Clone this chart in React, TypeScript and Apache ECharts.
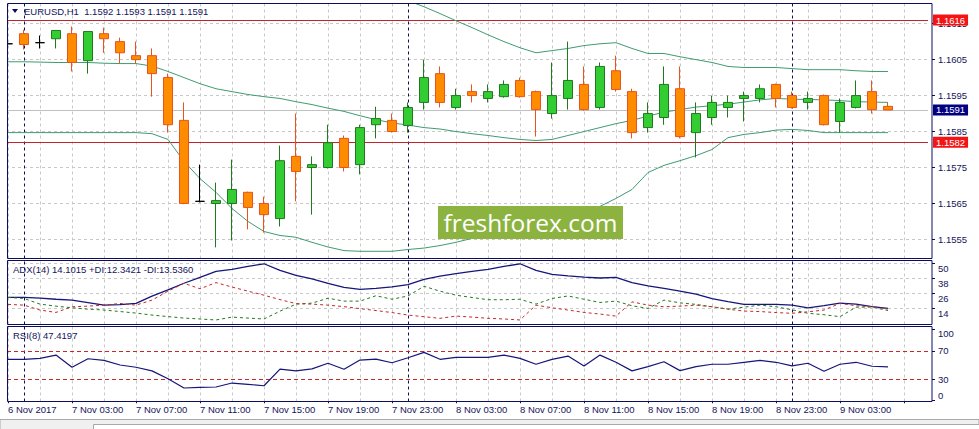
import { useEffect, useRef } from 'react'
import * as echarts from 'echarts'

// EURUSD H1, 6 Nov 23:00 .. 9 Nov 06:00 (one value per bar)
const open = [
  1.16094, 1.16122, 1.16097, 1.16108, 1.16122, 1.16047, 1.16122, 1.161, 1.16061, 1.16061,
  1.16, 1.15881, 1.15656, 1.1565, 1.1565, 1.15681, 1.1565, 1.15608, 1.15781, 1.1575,
  1.1575, 1.15831, 1.15758, 1.15869, 1.15881, 1.15867, 1.15931, 1.16011, 1.15917, 1.15961,
  1.15942, 1.15947, 1.15992, 1.15961, 1.159, 1.15942, 1.15981, 1.15917, 1.16019, 1.15961,
  1.15861, 1.15889, 1.15969, 1.15847, 1.15889, 1.15917, 1.15942, 1.15942, 1.15981, 1.1595,
  1.15931, 1.1595, 1.15878, 1.15917, 1.15961, 1.1592,
]
const high = [
  1.16111, 1.16133, 1.16117, 1.16131, 1.16142, 1.16128, 1.16139, 1.16111, 1.161, 1.16081,
  1.16011, 1.15931, 1.15758, 1.15708, 1.15772, 1.15683, 1.15669, 1.15811, 1.159, 1.15781,
  1.15869, 1.15839, 1.15869, 1.15919, 1.159, 1.15931, 1.1605, 1.16031, 1.15969, 1.15981,
  1.15981, 1.15992, 1.16, 1.15964, 1.16042, 1.161, 1.16031, 1.16042, 1.16061, 1.15969,
  1.15931, 1.16031, 1.16031, 1.15931, 1.1595, 1.1595, 1.15961, 1.15981, 1.15983, 1.15961,
  1.15961, 1.15953, 1.15942, 1.15992, 1.15992, 1.1593,
]
const low = [
  1.16069, 1.16078, 1.16081, 1.16081, 1.16017, 1.16011, 1.16069, 1.16039, 1.16039, 1.15947,
  1.15847, 1.15648, 1.15653, 1.15528, 1.15547, 1.15578, 1.15569, 1.15586, 1.15656, 1.15619,
  1.15747, 1.15739, 1.15731, 1.15831, 1.15847, 1.15847, 1.15911, 1.15917, 1.15911, 1.15931,
  1.15931, 1.15944, 1.15944, 1.15836, 1.15886, 1.15911, 1.15908, 1.15911, 1.15961, 1.15831,
  1.15847, 1.15869, 1.15831, 1.15778, 1.15869, 1.15889, 1.15878, 1.15931, 1.15917, 1.15914,
  1.15911, 1.15867, 1.15847, 1.15914, 1.159, 1.1591,
]
const close = [
  1.16094, 1.16092, 1.16097, 1.16131, 1.16042, 1.16128, 1.16108, 1.16069, 1.1605, 1.16011,
  1.15869, 1.1565, 1.15656, 1.15658, 1.15689, 1.15639, 1.15619, 1.15769, 1.15739, 1.15758,
  1.15819, 1.1575, 1.15861, 1.15886, 1.1585, 1.15917, 1.16, 1.15931, 1.1595, 1.1595,
  1.15961, 1.15981, 1.15947, 1.15911, 1.1595, 1.15992, 1.15911, 1.16031, 1.15967, 1.15847,
  1.159, 1.15981, 1.15836, 1.159, 1.15931, 1.15931, 1.1595, 1.15969, 1.15942, 1.15917,
  1.15942, 1.15869, 1.15931, 1.1595, 1.15911, 1.1591,
]

// Bollinger bands
const bbUpper = [
  1.16242, 1.16242, 1.16239, 1.16236, 1.16236, 1.16236, 1.16233, 1.16231, 1.16231, 1.16225,
  1.16219, 1.16233, 1.16247, 1.16258, 1.16286, 1.16306, 1.16322, 1.16322, 1.16311, 1.16308,
  1.16301, 1.16292, 1.16272, 1.1625, 1.16231, 1.16214, 1.16197, 1.16178, 1.16158, 1.16139,
  1.16119, 1.161, 1.16083, 1.16069, 1.16075, 1.16081, 1.16089, 1.16094, 1.16097, 1.16081,
  1.16067, 1.16067, 1.16058, 1.1605, 1.16042, 1.16031, 1.16028, 1.16028, 1.16028, 1.16025,
  1.16022, 1.16022, 1.16022, 1.16019, 1.16017, 1.16017,
]
const bbMiddle = [
  1.16044, 1.16044, 1.16043, 1.16042, 1.16042, 1.16042, 1.1604, 1.16039, 1.16039, 1.16032,
  1.16017, 1.16, 1.15983, 1.15969, 1.15961, 1.15953, 1.15947, 1.15942, 1.15933, 1.15925,
  1.15915, 1.15906, 1.15894, 1.15883, 1.15874, 1.15868, 1.15861, 1.15857, 1.1585, 1.15844,
  1.15839, 1.15833, 1.15828, 1.15825, 1.15828, 1.15839, 1.1585, 1.15861, 1.15872, 1.15881,
  1.15893, 1.15904, 1.15911, 1.15918, 1.15922, 1.15926, 1.15932, 1.15938, 1.15942, 1.1594,
  1.15939, 1.15938, 1.15936, 1.15933, 1.15932, 1.15931,
]
const bbLower = [
  1.15847, 1.15847, 1.15847, 1.15847, 1.15847, 1.15847, 1.15847, 1.15847, 1.15847, 1.15844,
  1.15828, 1.15767, 1.15719, 1.15681, 1.15636, 1.156, 1.15572, 1.15561, 1.15556, 1.15542,
  1.15529, 1.15519, 1.15517, 1.15517, 1.15517, 1.15522, 1.15526, 1.15533, 1.15542, 1.15553,
  1.15558, 1.15567, 1.15569, 1.15572, 1.15575, 1.156, 1.15621, 1.15642, 1.15664, 1.15689,
  1.15736, 1.15756, 1.15769, 1.15783, 1.158, 1.15833, 1.15842, 1.15847, 1.15854, 1.15856,
  1.15853, 1.15847, 1.15847, 1.15847, 1.15847, 1.15847,
]

// ADX(14)
const adx = [
  22.7, 22.7, 22.1, 21.3, 20.6, 18.6, 16.6, 17, 18, 23.7,
  28.8, 34, 38.7, 43.4, 45, 47.4, 49.5, 44.2, 40.3, 37.5,
  34, 30.8, 29.2, 30, 31.2, 32.9, 37.1, 39.7, 41.6, 43.4,
  45, 47.4, 49.5, 44.2, 41.1, 39.9, 38.9, 38.2, 38.7, 34.5,
  32, 30, 27.8, 25.3, 21.7, 19.4, 17.2, 17.2, 17.2, 16.6,
  14.5, 16.2, 18.2, 17.4, 15.4, 14.1,
]
const plusDI = [
  22.7, 21.9, 17.4, 15.8, 14.5, 13.4, 12.7, 11.5, 10.3, 8.7,
  7.5, 6.3, 5.6, 4.8, 7.1, 6.3, 5.6, 11.8, 17.4, 18.2,
  22.1, 19.8, 19.8, 24.1, 21.3, 23.9, 31.6, 27.7, 24.5, 22.7,
  20.9, 20.9, 21.3, 17.4, 21.9, 23.9, 21.3, 18.7, 19.8, 16.1,
  14, 20.6, 18.4, 17.2, 15.3, 13.4, 15, 16.6, 15.3, 12.9,
  10.1, 9, 7.4, 15, 15, 12.3,
]
const minusDI = [
  17.2, 16.6, 12.7, 10.8, 15.3, 15.8, 16.6, 17.9, 16.6, 20.6,
  27.7, 34, 29.6, 34.5, 31, 27.7, 24.5, 21, 17.8, 17.4,
  16.6, 15.4, 13.8, 12.3, 10.7, 8.7, 7.4, 6.1, 7.9, 7.1,
  6.1, 5.6, 4.8, 16.6, 14.5, 12.7, 10.8, 9.5, 7.9, 19.2,
  16.6, 15.3, 15.8, 16.6, 15.3, 13.4, 11.9, 11.5, 10.7, 10.1,
  11.3, 12.7, 18, 16.1, 15.4, 13.5,
]

// RSI(8)
const rsi = [
  58, 58, 59.4, 64, 46.8, 58.8, 56.6, 50, 46.8, 41.6,
  30.4, 17.4, 18.3, 18.8, 24.4, 22.6, 20.6, 44, 41.6, 44.4,
  52.4, 44, 57, 58.4, 53.2, 60.2, 67.8, 58, 60.8, 60.8,
  60.8, 64, 59.4, 51, 58, 62.6, 48.6, 64, 53.8, 41.6,
  47.6, 54.6, 42, 47.6, 51, 51, 53.8, 56.6, 53.8, 48.6,
  52.4, 41.2, 51, 53.8, 48.2, 47.4,
]

const timeLabels = [
  '6 Nov 2017', '7 Nov 03:00', '7 Nov 07:00', '7 Nov 11:00', '7 Nov 15:00', '7 Nov 19:00', '7 Nov 23:00',
  '8 Nov 03:00', '8 Nov 07:00', '8 Nov 11:00', '8 Nov 15:00', '8 Nov 19:00', '8 Nov 23:00', '9 Nov 03:00',
]
const priceTicks = [1.1555, 1.1565, 1.1575, 1.1585, 1.1595, 1.1605, 1.1615]
const adxTicks = [14, 26, 38, 50]
const rsiTicks = [0, 30, 70, 100]
const rsiLevels = [70, 30]
const levelHigh = 1.1616
const levelLow = 1.1582
const lastPrice = 1.1591

// two empty slots after the last bar, like the chart shift in the terminal
const SLOTS = 58
const hours = Array.from({ length: SLOTS }, (_, i) => {
  const h = 23 + i
  return `${6 + Math.floor(h / 24)} Nov ${String(h % 24).padStart(2, '0')}:00`
})
const dayStarts = hours.map((h, i) => (h.endsWith(' 00:00') ? i : -1)).filter((i) => i >= 0)

const NAVY = '#0c0c5c'
const TXT = '#14145a'
const FONT = 'Liberation Sans'

function vGrid() {
  const grid = hours
    .map((_, i) => i)
    .filter((i) => i % 2 === 0)
    .map((i) => ({ xAxis: i, lineStyle: { color: '#c8c8c8', type: [3, 3], width: 1 } }))
  const seps = dayStarts.map((i) => ({ xAxis: i, lineStyle: { color: '#10105a', type: [3, 3], width: 1 } }))
  return [...grid, ...seps]
}

function priceTag(value: number, bg: string) {
  return {
    show: true,
    position: 'end',
    distance: 5,
    formatter: value.toFixed(4),
    backgroundColor: bg,
    color: '#fff',
    padding: [1, 3, 0, 3],
    fontSize: 9.5,
    fontFamily: FONT,
  }
}

export default function App() {
  const ref = useRef<HTMLDivElement>(null)

  useEffect(() => {
    document.body.style.margin = '0'
    if (!ref.current) return
    const chart = echarts.init(ref.current, null, { renderer: 'svg' })

    const xBase = { type: 'category', data: hours, boundaryGap: true, axisLine: { show: false }, axisTick: { show: false }, axisLabel: { show: false }, splitLine: { show: false } }
    const yBase = {
      position: 'right',
      offset: 4,
      axisLine: { show: false },
      axisTick: { show: true, length: 3, lineStyle: { color: NAVY } },
      axisLabel: { color: TXT, fontSize: 9.5, fontFamily: FONT, margin: 6, showMinLabel: true, showMaxLabel: true },
    }
    const mlBase = { silent: true, precision: 5, symbol: ['none', 'none'], z: 1, label: { show: false }, emphasis: { disabled: true }, animation: false }

    chart.setOption({
      animation: false,
      textStyle: { fontFamily: FONT },
      grid: [
        { left: 0, width: 928, top: 3.5, height: 255, outerBoundsMode: 'none' },
        { left: 0, width: 928, top: 260.5, height: 64, outerBoundsMode: 'none' },
        { left: 0, width: 928, top: 326.5, height: 75, outerBoundsMode: 'none' },
      ],
      xAxis: [
        { ...xBase, gridIndex: 0 },
        { ...xBase, gridIndex: 1 },
        {
          ...xBase,
          gridIndex: 2,
          axisTick: { show: true, interval: 3, alignWithLabel: true, length: 3, lineStyle: { color: NAVY } },
          axisLabel: {
            show: true,
            interval: 3,
            align: 'left',
            margin: 3,
            color: TXT,
            fontSize: 9.5,
            fontFamily: FONT,
            formatter: (_v: string, idx: number) => timeLabels[idx / 4] ?? '',
          },
        },
      ],
      yAxis: [
        {
          ...yBase,
          gridIndex: 0,
          type: 'value',
          min: 1.15497,
          max: 1.16206,
          axisTick: { ...yBase.axisTick, customValues: priceTicks },
          axisLabel: { ...yBase.axisLabel, customValues: priceTicks, formatter: (v: number) => v.toFixed(4) },
          splitLine: { show: true, lineStyle: { color: '#c8c8c8', type: [3, 3], width: 1 } },
        },
        {
          ...yBase,
          gridIndex: 1,
          type: 'value',
          min: 1.2,
          max: 52.1,
          axisTick: { ...yBase.axisTick, customValues: adxTicks },
          axisLabel: { ...yBase.axisLabel, customValues: adxTicks, verticalAlign: 'top' },
          splitLine: { show: true, lineStyle: { color: '#c8c8c8', type: [3, 3], width: 1 } },
        },
        {
          ...yBase,
          gridIndex: 2,
          type: 'value',
          min: -1.75,
          max: 104.5,
          axisTick: { ...yBase.axisTick, customValues: rsiTicks },
          axisLabel: {
            ...yBase.axisLabel,
            customValues: rsiTicks,
            formatter: (v: number) => (v === 0 ? `{b|${v}}` : v === 100 ? `{t|${v}}` : String(v)),
            rich: {
              b: { lineHeight: 20, verticalAlign: 'top', color: TXT, fontSize: 9.5, fontFamily: FONT },
              t: { padding: [8, 0, 0, 0], color: TXT, fontSize: 9.5, fontFamily: FONT },
            },
          },
          splitLine: { show: false },
        },
      ],
      series: [
        {
          name: 'EURUSD',
          type: 'candlestick',
          xAxisIndex: 0,
          yAxisIndex: 0,
          barWidth: 10,
          z: 3,
          data: open.map((o, i) => [o, close[i], low[i], high[i]]),
          itemStyle: {
            color: '#33cc33',
            borderColor: '#1f7a1f',
            color0: '#ff8c00',
            borderColor0: '#e8541a',
            borderColorDoji: '#000000',
            borderWidth: 1,
          },
        },
        ...[bbUpper, bbMiddle, bbLower].map((d, k) => ({
          name: ['BB upper', 'BB middle', 'BB lower'][k],
          type: 'line',
          xAxisIndex: 0,
          yAxisIndex: 0,
          data: d,
          showSymbol: false,
          z: 2,
          lineStyle: { color: '#3f9c70', width: 1 },
          markLine:
            k === 1
              ? {
                  ...mlBase,
                  data: [
                    ...vGrid(),
                    { yAxis: lastPrice, lineStyle: { color: '#c0c0c0', type: 'solid', width: 1 }, label: priceTag(lastPrice, '#000080') },
                    { yAxis: levelHigh, lineStyle: { color: '#c4232b', type: 'solid', width: 1 }, label: priceTag(levelHigh, '#f51414') },
                    { yAxis: levelLow, lineStyle: { color: '#c4232b', type: 'solid', width: 1 }, label: priceTag(levelLow, '#f51414') },
                  ],
                }
              : undefined,
        })),
        {
          name: 'ADX',
          type: 'line',
          xAxisIndex: 1,
          yAxisIndex: 1,
          data: adx,
          showSymbol: false,
          z: 3,
          lineStyle: { color: '#15157a', width: 1.3 },
          markLine: { ...mlBase, data: vGrid() },
        },
        {
          name: '+DI',
          type: 'line',
          xAxisIndex: 1,
          yAxisIndex: 1,
          data: plusDI,
          showSymbol: false,
          lineStyle: { color: '#207a20', width: 1, type: [3, 3] },
        },
        {
          name: '-DI',
          type: 'line',
          xAxisIndex: 1,
          yAxisIndex: 1,
          data: minusDI,
          showSymbol: false,
          lineStyle: { color: '#c62828', width: 1, type: [3, 3] },
        },
        {
          name: 'RSI',
          type: 'line',
          xAxisIndex: 2,
          yAxisIndex: 2,
          data: rsi,
          showSymbol: false,
          z: 3,
          lineStyle: { color: '#15157a', width: 1.2 },
          markLine: {
            ...mlBase,
            data: [
              ...vGrid(),
              ...rsiLevels.map((v) => ({ yAxis: v, lineStyle: { color: '#c62828', type: [4, 3], width: 1 } })),
            ],
          },
        },
      ],
      graphic: [
        // left margin hides the part of the first bar that is cut by the frame
        { type: 'rect', z: 50, shape: { x: 0, y: 0, width: 7, height: 405 }, style: { fill: '#fff' } },
        { type: 'rect', z: 60, shape: { x: 7.5, y: 3.5, width: 924.5, height: 255 }, style: { fill: 'none', stroke: NAVY, lineWidth: 1 } },
        { type: 'rect', z: 60, shape: { x: 7.5, y: 260.5, width: 924.5, height: 64 }, style: { fill: 'none', stroke: NAVY, lineWidth: 1 } },
        { type: 'rect', z: 60, shape: { x: 7.5, y: 326.5, width: 924.5, height: 75 }, style: { fill: 'none', stroke: NAVY, lineWidth: 1 } },
        { type: 'polygon', z: 60, shape: { points: [[12, 9], [18, 9], [15, 13]] }, style: { fill: NAVY } },
        { type: 'text', z: 60, x: 24, y: 11, style: { text: 'EURUSD,H1  1.1592 1.1593 1.1591 1.1591', fill: TXT, font: `9.5px "${FONT}"`, verticalAlign: 'middle' } },
        { type: 'text', z: 60, x: 13, y: 269, style: { text: 'ADX(14) 14.1015 +DI:12.3421 -DI:13.5360', fill: TXT, font: `9.5px "${FONT}"`, verticalAlign: 'middle' } },
        { type: 'text', z: 60, x: 13, y: 335.5, style: { text: 'RSI(8) 47.4197', fill: TXT, font: `9.5px "${FONT}"`, verticalAlign: 'middle' } },
        { type: 'rect', z: 40, shape: { x: 438, y: 206, width: 185, height: 33 }, style: { fill: '#8cb33f' } },
        { type: 'text', z: 41, x: 530.5, y: 222.5, style: { text: 'freshforex.com', fill: '#fff', font: '24.5px "Open Sans"', align: 'center', verticalAlign: 'middle' } },
        { type: 'rect', z: 60, shape: { x: 0, y: 419.5, width: 979, height: 10 }, style: { fill: '#f0f0f0', stroke: '#a8a8a8', lineWidth: 1 } },
        { type: 'rect', z: 61, shape: { x: 93.5, y: 424.5, width: 886, height: 6 }, style: { fill: '#fff', stroke: '#a8a8a8', lineWidth: 1 } },
      ],
    })

    return () => chart.dispose()
  }, [])

  return <div ref={ref} style={{ width: 979, height: 429, background: '#fff' }} />
}
